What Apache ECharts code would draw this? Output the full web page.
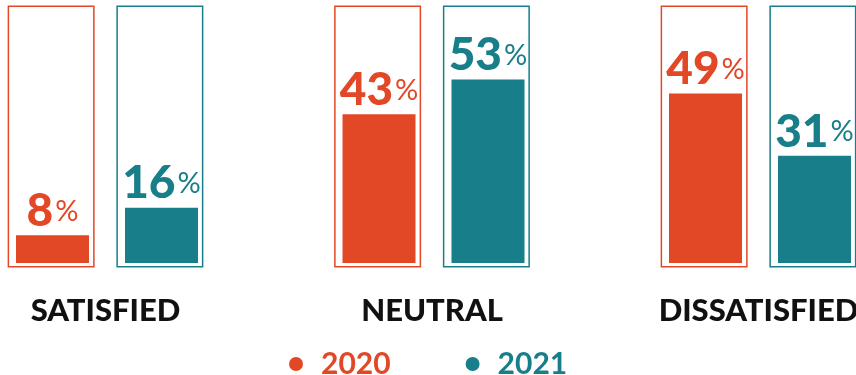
<!DOCTYPE html>
<html><head><meta charset="utf-8">
<script src="https://cdn.jsdelivr.net/npm/echarts@6/dist/echarts.min.js"></script>
<style>html,body{margin:0;padding:0;background:#fff}#c{width:856px;height:375px}</style>
</head><body><div id="c"></div>
<script>
const categories = ['SATISFIED', 'NEUTRAL', 'DISSATISFIED'];
const years = ['2020', '2021'];
const values2020 = [8, 43, 49];
const values2021 = [16, 53, 31];
const frameFull = [1, 1, 1];
const ORANGE = '#e24826', TEAL = '#187e89';

const chart = echarts.init(document.getElementById('c'));
const font = 'Lato, "Open Sans", sans-serif';
const labelCfg = (color) => ({
  show: true, position: 'top', distance: 1,
  formatter: p => '{n|' + p.value + '}{p|%}',
  rich: {
    n: {fontSize: 46, fontWeight: 900, color: color, fontFamily: font, lineHeight: 46},
    p: {fontSize: 29, fontWeight: 'normal', color: color, fontFamily: font, lineHeight: 46, padding: [0,0,0,2]}
  }
});
chart.setOption({
  animation: false,
  grid: [
    {left: -57.75, width: 979.5, top: 5.5, bottom: 107.5, outerBoundsMode: 'none', containLabel: false},
    {left: -56.25, width: 979.5, top: -83, bottom: 112, outerBoundsMode: 'none', containLabel: false}
  ],
  xAxis: [
    {type: 'category', gridIndex: 0, data: categories, axisLine: {show: false}, axisTick: {show: false},
     axisLabel: {margin: 28, fontSize: 31, fontWeight: 900, color: '#111', fontFamily: font, lineHeight: 30}},
    {type: 'category', gridIndex: 1, data: categories, show: false}
  ],
  yAxis: [
    {type: 'value', gridIndex: 0, min: 0, max: 1, show: false},
    {type: 'value', gridIndex: 1, min: 0, max: 100, show: false}
  ],
  legend: {
    data: [{name: years[0], textStyle: {color: ORANGE}}, {name: years[1], textStyle: {color: TEAL}}],
    left: 284, top: 344, icon: 'circle', itemWidth: 40, itemHeight: 14, itemGap: 75,
    textStyle: {fontSize: 30, fontWeight: 'bold', fontFamily: font, lineHeight: 30}
  },
  series: [
    {name: 'frame' + years[0], type: 'bar', xAxisIndex: 0, yAxisIndex: 0, data: frameFull, barWidth: 87, barGap: '25%',
     itemStyle: {color: 'rgba(0,0,0,0)', borderColor: ORANGE, borderWidth: 1.5}, silent: true},
    {name: 'frame' + years[1], type: 'bar', xAxisIndex: 0, yAxisIndex: 0, data: frameFull, barWidth: 87, barGap: '25%',
     itemStyle: {color: 'rgba(0,0,0,0)', borderColor: TEAL, borderWidth: 1.5}, silent: true},
    {name: years[0], type: 'bar', xAxisIndex: 1, yAxisIndex: 1, data: values2020, barWidth: 73, barGap: '49.3%',
     itemStyle: {color: ORANGE}, label: labelCfg(ORANGE)},
    {name: years[1], type: 'bar', xAxisIndex: 1, yAxisIndex: 1, data: values2021, barWidth: 73, barGap: '49.3%',
     itemStyle: {color: TEAL}, label: labelCfg(TEAL)}
  ]
});
</script></body></html>
